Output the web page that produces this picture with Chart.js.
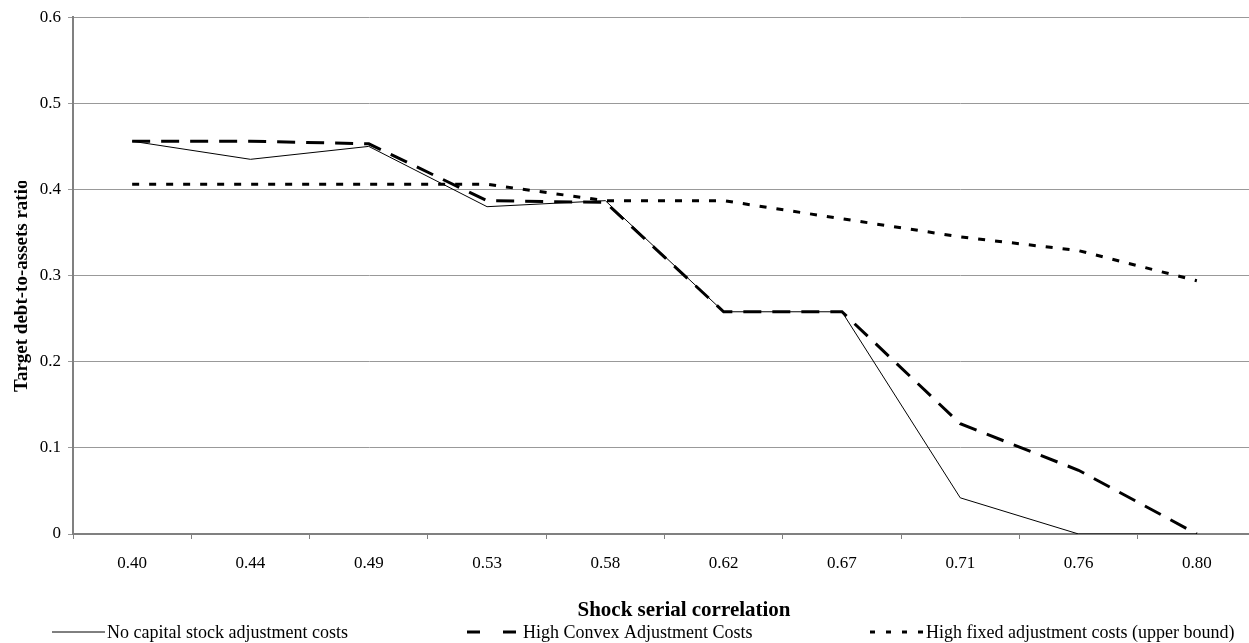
<!DOCTYPE html>
<html>
<head>
<meta charset="utf-8">
<script src="https://cdn.jsdelivr.net/npm/chart.js@4.4.1/dist/chart.umd.min.js"></script>
<style>
html,body{margin:0;padding:0;background:#fff;overflow:hidden;}
#wrap{width:1256px;height:643px;}
</style>
</head>
<body>
<div id="wrap"><canvas id="c" width="1256" height="643"></canvas></div>
<script>
const categories = ["0.40","0.44","0.49","0.53","0.58","0.62","0.67","0.71","0.76","0.80"];
const noCapitalCosts = [0.456,0.435,0.450,0.380,0.387,0.258,0.258,0.042,0.000,0.000];
const highConvexCosts = [0.456,0.456,0.453,0.387,0.385,0.258,0.258,0.128,0.074,0.000];
const highFixedCosts = [0.406,0.406,0.406,0.406,0.387,0.387,0.366,0.345,0.329,0.294];
const seriesNames = ["No capital stock adjustment costs","High Convex Adjustment Costs","High fixed adjustment costs (upper bound)"];
const yTicks = [0,0.1,0.2,0.3,0.4,0.5,0.6];
const xTitle = "Shock serial correlation";
const yTitle = "Target debt-to-assets ratio";

const FONT = "'Liberation Serif','Times New Roman',serif";

const textPlugin = {
  id: 'customText',
  afterDraw(chart) {
    const ctx = chart.ctx;
    ctx.save();
    ctx.fillStyle = "#000";
    // y-axis title (rotated, clipped at its top like the original)
    ctx.save();
    ctx.beginPath();
    ctx.rect(0, 181, 40, 260);
    ctx.clip();
    ctx.translate(22, 392);
    ctx.rotate(-Math.PI / 2);
    ctx.font = "bold 19px " + FONT;
    ctx.textAlign = "left";
    ctx.textBaseline = "middle";
    ctx.fillText(yTitle, 0, 0);
    ctx.restore();
    // x-axis title
    ctx.font = "bold 21px " + FONT;
    ctx.textAlign = "center";
    ctx.textBaseline = "middle";
    ctx.fillText(xTitle, 684, 611);
    // legend
    const y = 632;
    const items = [
      {x1: 52, x2: 105, tx: 107, ds: chart.data.datasets[0], dash: []},
      {x1: 467, x2: 517, tx: 523, ds: chart.data.datasets[1], dash: [13, 23]},
      {x1: 870, x2: 923, tx: 926, ds: chart.data.datasets[2], dash: [5, 11]}
    ];
    ctx.font = "18px " + FONT;
    ctx.textAlign = "left";
    items.forEach(it => {
      ctx.beginPath();
      ctx.setLineDash(it.dash);
      ctx.lineWidth = it.ds.borderWidth;
      ctx.strokeStyle = it.ds.borderColor;
      ctx.moveTo(it.x1, y);
      ctx.lineTo(it.x2, y);
      ctx.stroke();
      ctx.setLineDash([]);
      ctx.fillText(it.ds.label, it.tx, y + 1);
    });
    ctx.restore();
  }
};

new Chart(document.getElementById('c'), {
  type: 'line',
  data: {
    labels: categories,
    datasets: [
      {label: seriesNames[0], data: noCapitalCosts, borderColor: '#000', borderWidth: 1, pointRadius: 0, tension: 0, fill: false},
      {label: seriesNames[1], data: highConvexCosts, borderColor: '#000', borderWidth: 3, borderDash: [18, 11], pointRadius: 0, tension: 0, fill: false},
      {label: seriesNames[2], data: highFixedCosts, borderColor: '#000', borderWidth: 3, borderDash: [7, 10], pointRadius: 0, tension: 0, fill: false}
    ]
  },
  options: {
    responsive: false,
    animation: false,
    devicePixelRatio: 1,
    layout: {padding: {left: 0, right: 0, top: 14, bottom: 0}},
    plugins: {legend: {display: false}, tooltip: {enabled: false}},
    scales: {
      x: {
        offset: true,
        grid: {offset: true, drawOnChartArea: false, drawTicks: true, tickLength: 5, color: '#808080', lineWidth: 1},
        border: {color: '#808080', width: 2},
        ticks: {color: '#000', font: {family: FONT, size: 17}, padding: 14, maxRotation: 0, autoSkip: false},
        afterFit(scale) { scale.height = 109; }
      },
      y: {
        min: 0, max: 0.6,
        afterBuildTicks(scale) { scale.ticks = yTicks.map(v => ({value: v})); },
        grid: {color: '#999999', lineWidth: 1, tickLength: 5, drawTicks: true},
        border: {color: '#808080', width: 2},
        ticks: {color: '#000', font: {family: FONT, size: 17}, padding: 7,
          callback: v => v === 0 ? '0' : Number(v).toFixed(1)},
        afterFit(scale) { scale.width = 73; }
      }
    }
  },
  plugins: [textPlugin]
});
</script>
</body>
</html>
